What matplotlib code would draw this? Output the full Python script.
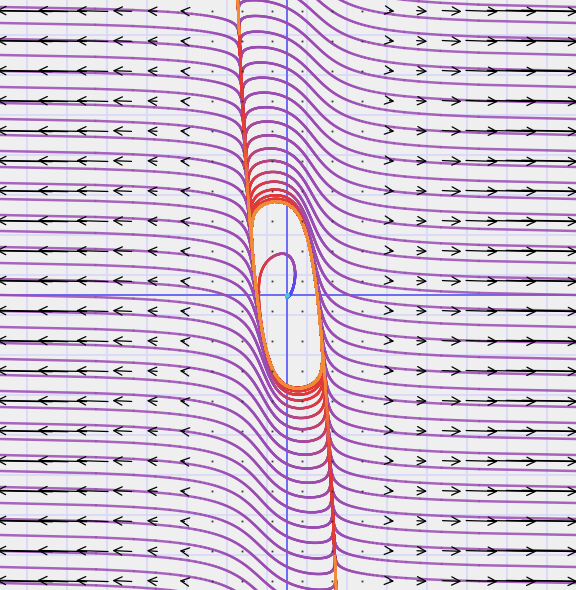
import numpy as np
import matplotlib
matplotlib.use("Agg")
import matplotlib.pyplot as plt
from matplotlib.collections import LineCollection
from matplotlib.colors import LinearSegmentedColormap

# ---- model (plotted flow):  x' = M (x - x^3/3 - y),  y' = x + b y  ----
FAST_RATE = 1.85     # M
SLOW_TILT = 0.32     # b
X_SCALE = 16.0       # pixels per model unit, horizontal
Y_SCALE = 45.0       # pixels per model unit, vertical
ARROW_GAIN = 0.00182 # arrow length per unit of field speed

# ---- view / decorations (pixel coordinates centred on the origin) ----
X_RANGE = (-287, 289)
Y_RANGE = (-295, 295)
grid_lines_x = [-260, -220, -180, -140, -100, -60, -20, 20, 60, 100, 140, 180, 220, 260]
grid_lines_y = [-260, -220, -180, -140, -100, -60, -20, 20, 60, 100, 140, 180, 220, 260]
arrow_cols = [-285, -255, -225, -195, -165, -135, -105, -75, -45, -15,
              15, 45, 75, 105, 135, 165, 195, 225, 255, 285]
arrow_rows = [-286, -256, -226, -196, -166, -136, -106, -76, -46, -16,
              14, 44, 74, 104, 134, 164, 194, 224, 254, 284]

# ---- trajectory seeds ----
seed_left_v = [-288, -272, -256, -240, -224, -208, -192, -176, -160, -144, -128, -112,
               -96, -80, -64, -48, -32, -16, 0, 16, 32, 48, 64, 80, 96, 112, 128, 144,
               160, 176, 192, 208, 224, 240, 256, 272, 288, 330, 380, 430, 480]
seed_right_v = [288, 272, 256, 240, 224, 208, 192, 176, 160, 144, 128, 112,
                96, 80, 64, 48, 32, 16, 0, -16, -32, -48, -64, -80, -96, -112, -128, -144,
                -160, -176, -192, -208, -224, -240, -256, -272, -288, -330, -380, -430, -480]
seed_left_h = -287.0
seed_right_h = 289.0
inner_seed = (8.0, 24.0)

# colour by time along trajectory
time_nodes = [-3.0, -1.2, -0.2, 0.0, 0.7, 1.3, 4.0, 6.5, 8.0, 10.0]
time_colors = ['#38d4e8', '#4a4aff', '#6a45e0', '#9a4cb3', '#9a4cb3',
               '#e0383a', '#e4403a', '#e0383a', '#f29538', '#f08a3a']


def velocity(h, v):
    x = h / X_SCALE
    y = v / Y_SCALE
    dx = FAST_RATE * (x - x ** 3 / 3.0 - y)
    dy = x + SLOW_TILT * y
    return dx * X_SCALE, dy * Y_SCALE


def integrate(h0, v0, T, dt, keep=2):
    h = np.array(h0, float)
    v = np.array(v0, float)
    sgn = np.sign(T)
    n = int(abs(T) / dt)
    H = [h.copy()]; V = [v.copy()]; tt = [0.0]

    def f(a, b):
        p, q = velocity(a, b)
        return sgn * p, sgn * q

    for i in range(n):
        k1 = f(h, v)
        k2 = f(h + 0.5 * dt * k1[0], v + 0.5 * dt * k1[1])
        k3 = f(h + 0.5 * dt * k2[0], v + 0.5 * dt * k2[1])
        k4 = f(h + dt * k3[0], v + dt * k3[1])
        h = h + dt / 6 * (k1[0] + 2 * k2[0] + 2 * k3[0] + k4[0])
        v = v + dt / 6 * (k1[1] + 2 * k2[1] + 2 * k3[1] + k4[1])
        h = np.clip(h, -900, 900); v = np.clip(v, -900, 900)
        if (i + 1) % keep == 0:
            H.append(h.copy()); V.append(v.copy()); tt.append(sgn * (i + 1) * dt)
    return np.array(H), np.array(V), np.array(tt)


tmin, tmax = time_nodes[0], time_nodes[-1]
cmap = LinearSegmentedColormap.from_list(
    'traj', [((t - tmin) / (tmax - tmin), c) for t, c in zip(time_nodes, time_colors)])


def colored_segments(H, V, tt):
    inside = (np.abs(H) < 330) & (np.abs(V) < 600)
    if not inside.all():
        first_out = np.argmin(inside)
        if first_out > 0:
            H, V, tt = H[:first_out + 1], V[:first_out + 1], tt[:first_out + 1]
        else:
            return np.zeros((0, 2, 2)), np.zeros(0)
    pts = np.column_stack([H, V])
    segs = np.stack([pts[:-1], pts[1:]], axis=1)
    tm = 0.5 * (tt[:-1] + tt[1:])
    return segs, tm


fig = plt.figure(figsize=(5.76, 5.90), dpi=100)
ax = fig.add_axes([0, 0, 1, 1])
ax.set_facecolor('#efefef')
fig.patch.set_facecolor('#efefef')
ax.set_xlim(*X_RANGE)
ax.set_ylim(*Y_RANGE)
ax.axis('off')

for gx in grid_lines_x:
    ax.axvline(gx, color='#d6d6fb', lw=1.1, zorder=1)
for gy in grid_lines_y:
    ax.axhline(gy, color='#d6d6fb', lw=1.1, zorder=1)
ax.axvline(0, color='#6b6bf6', lw=1.4, zorder=1.5)
ax.axhline(0, color='#6b6bf6', lw=1.4, zorder=1.5)

h0 = np.array([seed_left_h] * len(seed_left_v) + [seed_right_h] * len(seed_right_v))
v0 = np.array(seed_left_v + seed_right_v, float)
H, V, tt = integrate(h0, v0, 10.0, 0.0016)
all_segs = []
all_t = []
for k in range(H.shape[1]):
    s, t = colored_segments(H[:, k], V[:, k], tt)
    all_segs.append(s); all_t.append(t)

Hb, Vb, tb = integrate([inner_seed[0]], [inner_seed[1]], -3.0, 0.002)
Hf, Vf, tf = integrate([inner_seed[0]], [inner_seed[1]], 6.0, 0.002)
for HH, VV, TT in [(Hb[:, 0], Vb[:, 0], tb), (Hf[:, 0], Vf[:, 0], tf)]:
    s, t = colored_segments(HH, VV, TT)
    all_segs.append(s); all_t.append(t)

segs = np.concatenate(all_segs)
tms = np.concatenate(all_t)
order = np.argsort(np.abs(tms), kind='stable')
segs, tms = segs[order], tms[order]
lc = LineCollection(segs, colors=cmap((np.clip(tms, tmin, tmax) - tmin) / (tmax - tmin)),
                    linewidths=1.8, alpha=0.85, capstyle='round', zorder=2)
ax.add_collection(lc)
ax.plot([0], [0], marker='o', ms=2.5, color='#40c8d8', zorder=2.5)

for av in arrow_rows:
    for ah in arrow_cols:
        u, w = velocity(ah, av)
        u, w = -u * ARROW_GAIN, -w * ARROW_GAIN
        L = np.hypot(u, w)
        if L < 2.5:
            ax.plot([ah], [av], marker='s', ms=1.3, color='#333333', mew=0, zorder=3)
        else:
            ax.annotate('', xy=(ah + u / 2, av + w / 2), xytext=(ah - u / 2, av - w / 2),
                        arrowprops=dict(arrowstyle='->,head_length=0.6,head_width=0.3',
                                        color='black', lw=0.9, shrinkA=0, shrinkB=0,
                                        mutation_scale=10),
                        annotation_clip=False, zorder=3)

fig.savefig('out.png', dpi=100, facecolor=fig.get_facecolor())
